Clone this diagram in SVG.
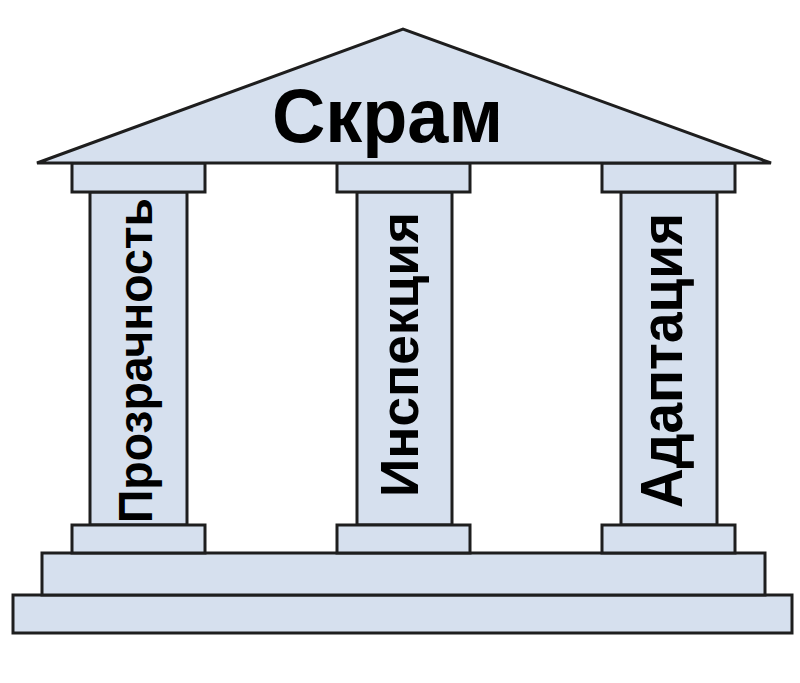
<svg xmlns="http://www.w3.org/2000/svg" width="800" height="683" viewBox="0 0 800 683">
<style>
.s{fill:#d6e0ee;stroke:#1e1e1e;stroke-width:3;stroke-linejoin:miter}
.t{font-family:"Liberation Sans",Arial,sans-serif;font-weight:bold;fill:#000;text-anchor:middle}
</style>
<rect width="800" height="683" fill="#fff"/>
<g id="base">
<rect class="s" x="13" y="595" width="779" height="38"/>
<rect class="s" x="42" y="553" width="723" height="42"/>
</g>
<g id="pillar-left">
<rect class="s" x="90" y="192" width="97" height="333"/>
<rect class="s" x="72" y="163" width="133" height="29"/>
<rect class="s" x="72" y="525" width="133" height="28"/>
<text class="t" transform="translate(152,360.5) rotate(-90)" font-size="48" textLength="325" lengthAdjust="spacingAndGlyphs">Прозрачность</text>
</g>
<g id="pillar-middle">
<rect class="s" x="357" y="192" width="95" height="333"/>
<rect class="s" x="337" y="163" width="133" height="29"/>
<rect class="s" x="337" y="525" width="133" height="28"/>
<text class="t" transform="translate(418,354.5) rotate(-90)" font-size="53" textLength="285" lengthAdjust="spacingAndGlyphs">Инспекция</text>
</g>
<g id="pillar-right">
<rect class="s" x="621" y="192" width="96" height="333"/>
<rect class="s" x="602" y="163" width="133" height="29"/>
<rect class="s" x="602" y="525" width="133" height="28"/>
<text class="t" transform="translate(682,360.5) rotate(-90)" font-size="60" textLength="295" lengthAdjust="spacingAndGlyphs">Адаптация</text>
</g>
<g id="roof">
<polygon class="s" points="37,163 403,29 771,163"/>
<text class="t" x="387.5" y="142" font-size="76" textLength="231" lengthAdjust="spacingAndGlyphs">Скрам</text>
</g>
<g id="connectors"/>
</svg>
